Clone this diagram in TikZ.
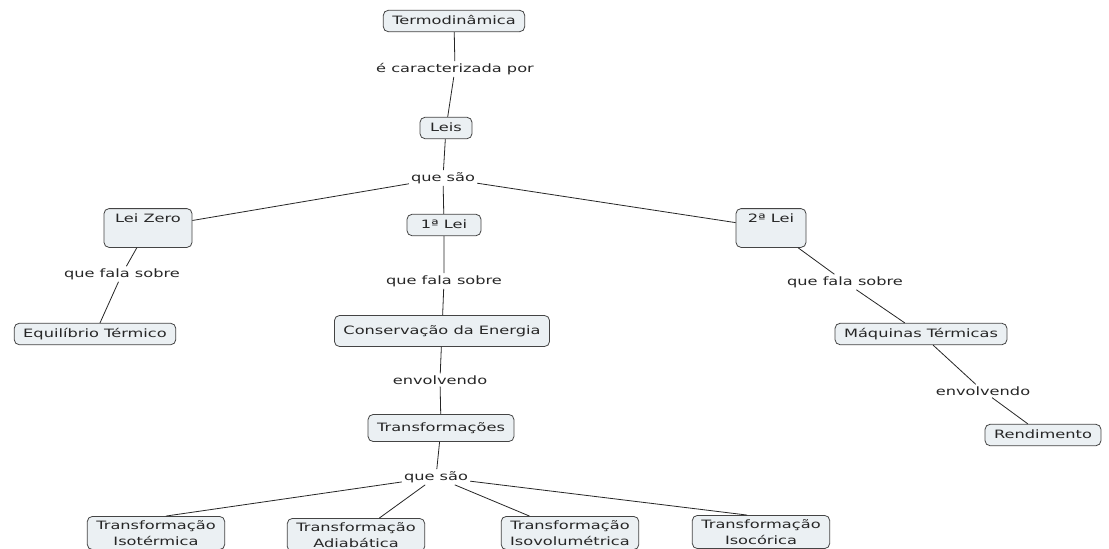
\documentclass[tikz,border=0pt]{standalone}
\usepackage{fontspec}
\setmainfont{DejaVu Sans}[FakeStretch=1.41]
\usepackage{xcolor}
\usepackage{tikz}
\usetikzlibrary{positioning}
\definecolor{caixafundo}{HTML}{EBF0F3}
\definecolor{caixaborda}{HTML}{444444}
\definecolor{textocinza}{HTML}{262626}
\tikzset{
  caixa/.style={draw=caixaborda, fill=caixafundo, rounded corners=5pt, text=textocinza,
                line width=0.8pt, inner xsep=9pt, inner ysep=5pt, align=center},
  conceito/.style={caixa, text height=8.8pt, text depth=2.6pt},
  frase/.style={text=textocinza, inner sep=2pt},
  liga/.style={draw=black!85, line width=0.8pt}
}

\begin{document}
\begin{tikzpicture}[x=1pt, y=-1pt, font=\fontsize{11.5}{16}\selectfont]
    \clip (0,0) rectangle (1109,549);
    \fill[white] (0,0) rectangle (1109,549);

    % conceitos
    \node[conceito] (termo) at (454,21) {Termodinâmica};
    \node[conceito, minimum width=52pt] (leis) at (446,128) {Leis};
    \node[conceito, minimum width=88pt, text depth=20pt] (leizero) at (148,228) {Lei Zero};
    \node[conceito, minimum width=74pt] (lei1) at (444,225) {1ª Lei};
    \node[conceito, minimum width=70pt, text depth=20pt] (lei2) at (771,228) {2ª Lei};
    \node[conceito] (equil) at (95,334) {Equilíbrio Térmico};
    \node[conceito, minimum height=31pt] (conserv) at (442,331) {Conservação da Energia};
    \node[conceito, minimum height=27pt] (transf) at (441,428) {Transformações};
    \node[conceito] (maquinas) at (921,334) {Máquinas Térmicas};
    \node[conceito] (rend) at (1043,435) {Rendimento};
    \node[caixa, inner ysep=4pt] (isot) at (156,533) {Transformação\\Isotérmica};
    \node[caixa, inner ysep=4pt] (adiab) at (356,535) {Transformação\\Adiabática};
    \node[caixa, inner ysep=4pt] (isovol) at (570,533) {Transformação\\Isovolumétrica};
    \node[caixa, inner ysep=4pt] (isocor) at (761,532) {Transformação\\Isocórica};

    % frases de ligacao
    \node[frase] (carac) at (455,69) {é caracterizada por};
    \node[frase] (quesao) at (443,178) {que são};
    \node[frase] (falazero) at (122,274) {que fala sobre};
    \node[frase] (fala1) at (444,281) {que fala sobre};
    \node[frase] (fala2) at (845,282) {que fala sobre};
    \node[frase] (envolv1) at (440,380) {envolvendo};
    \node[frase] (envolv2) at (983,391) {envolvendo};
    \node[frase] (quesao2) at (436,477) {que são};

    % ligacoes
    \draw[liga] (termo) -- (carac) -- (leis) -- (quesao);
    \draw[liga] (quesao) -- (leizero);
    \draw[liga] (quesao) -- (lei1);
    \draw[liga] (quesao) -- (lei2);
    \draw[liga] (leizero) -- (falazero) -- (equil);
    \draw[liga] (lei1) -- (fala1) -- (conserv) -- (envolv1) -- (transf) -- (quesao2);
    \draw[liga] (lei2) -- (fala2) -- (maquinas) -- (envolv2) -- (rend);
    \draw[liga] (quesao2) -- ([xshift=10pt]isot.north);
    \draw[liga] (quesao2) -- (adiab);
    \draw[liga] (quesao2) -- (isovol);
    \draw[liga] (quesao2) -- ([xshift=-14pt]isocor.north);
\end{tikzpicture}
\end{document}
